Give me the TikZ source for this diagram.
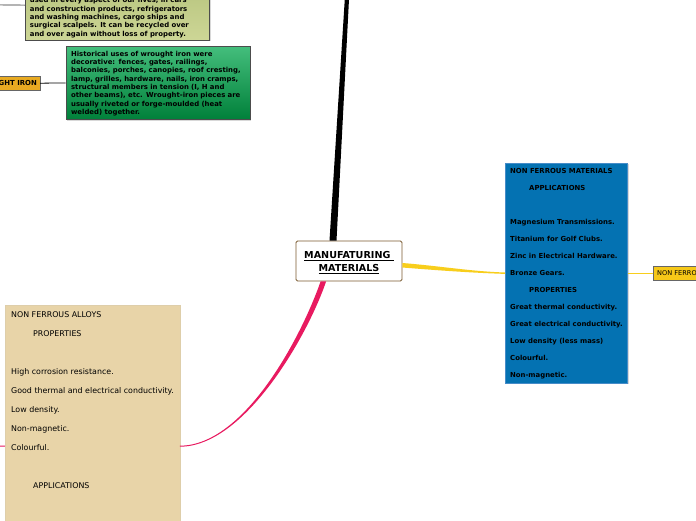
\documentclass[tikz,border=0pt]{standalone}
\usepackage{fontspec}
\setmainfont{DejaVu Sans}
\usetikzlibrary{calc,shadows}

\definecolor{centreedge}{RGB}{122,90,48}
\definecolor{topicblue}{RGB}{4,114,178}
\definecolor{topicedge}{RGB}{70,140,200}
\definecolor{alloytan}{RGB}{232,212,168}
\definecolor{alloyedge}{RGB}{222,206,170}
\definecolor{tagyellow}{RGB}{246,200,24}
\definecolor{tagorange}{RGB}{232,170,34}
\definecolor{branchyellow}{RGB}{248,206,28}
\definecolor{branchpink}{RGB}{232,26,96}

\tikzstyle{every node}=[anchor=north west, inner sep=0pt, align=left]
\tikzstyle{shadowed}=[drop shadow={opacity=.3, shadow xshift=1.2pt, shadow yshift=-1.2pt}]
\tikzstyle{centre}=[anchor=center, draw=centreedge, line width=.8pt, fill=white, rounded corners=1.5pt,
  align=center, inner xsep=3pt, minimum width=106pt, text height=30.5pt, text depth=9.5pt,
  font={\fontsize{9.6}{13}\selectfont\bfseries}]
\tikzstyle{topic}=[shadowed, draw=topicedge, fill=topicblue, inner xsep=5pt,
  text height=214.5pt, text depth=5.5pt, font={\fontsize{6.9}{17}\selectfont\bfseries}]
\tikzstyle{alloy}=[shadowed, draw=alloyedge, fill=alloytan, inner xsep=6pt,
  text height=182.9pt, text depth=99.1pt, font={\fontsize{7.9}{19}\selectfont}]
\tikzstyle{tag}=[shadowed, draw=black!60, inner xsep=4pt, text height=9.4pt, text depth=4.6pt]
\tikzstyle{note}=[shadowed, draw=black!70, line width=.8pt, inner xsep=5pt,
  font={\fontsize{6.9}{8.33}\selectfont\bfseries}]

\begin{document}
\begin{tikzpicture}[x=1pt, y=-1pt]
\useasboundingbox (0,0) rectangle (696,520);
\clip (0,0) rectangle (696,520);
\fill[white] (0,0) rectangle (696,520);

\node [centre] (root) at (349,261) {\underline{MANUFATURING\ }\\\underline{MATERIALS}};

\node [topic] (nfm) at (505,163) {NON FERROUS MATERIALS\\
  \hspace*{19pt}APPLICATIONS\\
  ~\\
  Magnesium Transmissions.\\
  Titanium for Golf Clubs.\\
  Zinc in Electrical Hardware.\\
  Bronze Gears.\\
  \hspace*{19pt}PROPERTIES\\
  Great thermal conductivity.\\
  Great electrical conductivity.\\
  Low density (less mass)\\
  Colourful.\\
  Non-magnetic.};

\node [tag, fill=tagyellow, font={\fontsize{6.6}{8}\selectfont}] (tagnfm) at (653,266) {NON FERROUS MATERIALS};

\node [alloy] (nfa) at (5,305) {NON FERROUS ALLOYS\\
  \hspace*{22pt}PROPERTIES\\
  ~\\
  High corrosion resistance.\\
  Good thermal and electrical conductivity.\\
  Low density.\\
  Non-magnetic.\\
  Colourful.\\
  ~\\
  \hspace*{22pt}APPLICATIONS};

\node [note, top color={rgb,255:red,178;green,192;blue,120}, bottom color={rgb,255:red,205;green,214;blue,150},
  text width=175pt, inner xsep=4.5pt, text height=32.5pt, text depth=37pt] (recycle) at (25,-30)
  {used in every aspect of our lives, in cars\\
  and construction products, refrigerators\\
  and washing machines, cargo ships and\\
  surgical scalpels. It can be recycled over\\
  and over again without loss of property.};

\node [note, top color={rgb,255:red,68;green,190;blue,124}, bottom color={rgb,255:red,0;green,128;blue,58},
  text width=174pt, text height=10.1pt, text depth=63.5pt] (uses) at (65.7,45.7)
  {Historical uses of wrought iron were\\
  decorative: fences, gates, railings,\\
  balconies, porches, canopies, roof cresting,\\
  lamp, grilles, hardware, nails, iron cramps,\\
  structural members in tension (I, H and\\
  other beams), etc. Wrought-iron pieces are\\
  usually riveted or forge-moulded (heat\\
  welded) together.};

\node [tag, anchor=north east, fill=tagorange, inner xsep=3pt, text height=9.5pt, text depth=4.5pt,
  font={\fontsize{6.9}{8}\selectfont\bfseries}] (iron) at (40,76) {WROUGHT IRON};

% free ends
\coordinate (up) at (348,-20);
\coordinate (offleft) at (-10,446);
\coordinate (offolive) at (-10,4.75);

% branches
\fill[black] ($(root.north)+(-19.5,0)$) -- ($(up)+(-2,0)$) -- ($(up)+(2,0)$) -- ($(root.north)+(-12.5,0)$) -- cycle;
\fill[branchyellow] ($(root.east)+(0,2)$) .. controls (440,266) and (470,271.3) .. ($(nfm.west)+(0,-0.7)$)
  -- ($(nfm.west)+(0,0.7)$) .. controls (470,272.7) and (440,270.5) .. ($(root.east)+(0,6.5)$) -- cycle;
\fill[branchpink] ($(root.south west)+(25,0)$) .. controls (302,335) and (245,445.5) .. ($(nfa.east)+(0,-0.5)$)
  -- ($(nfa.east)+(0,0.5)$) .. controls (245,446.5) and (308,335) .. ($(root.south west)+(30.5,0)$) -- cycle;

\draw[branchpink, line width=1pt] (nfa.west) -- (offleft);
\draw[branchyellow, line width=1pt] (nfm.east) -- (tagnfm.west);
\draw[black, line width=.8pt] (iron.east) -- (uses.west);
\draw[black!45, line width=1.2pt] (recycle.west) -- (offolive);
\end{tikzpicture}
\end{document}
